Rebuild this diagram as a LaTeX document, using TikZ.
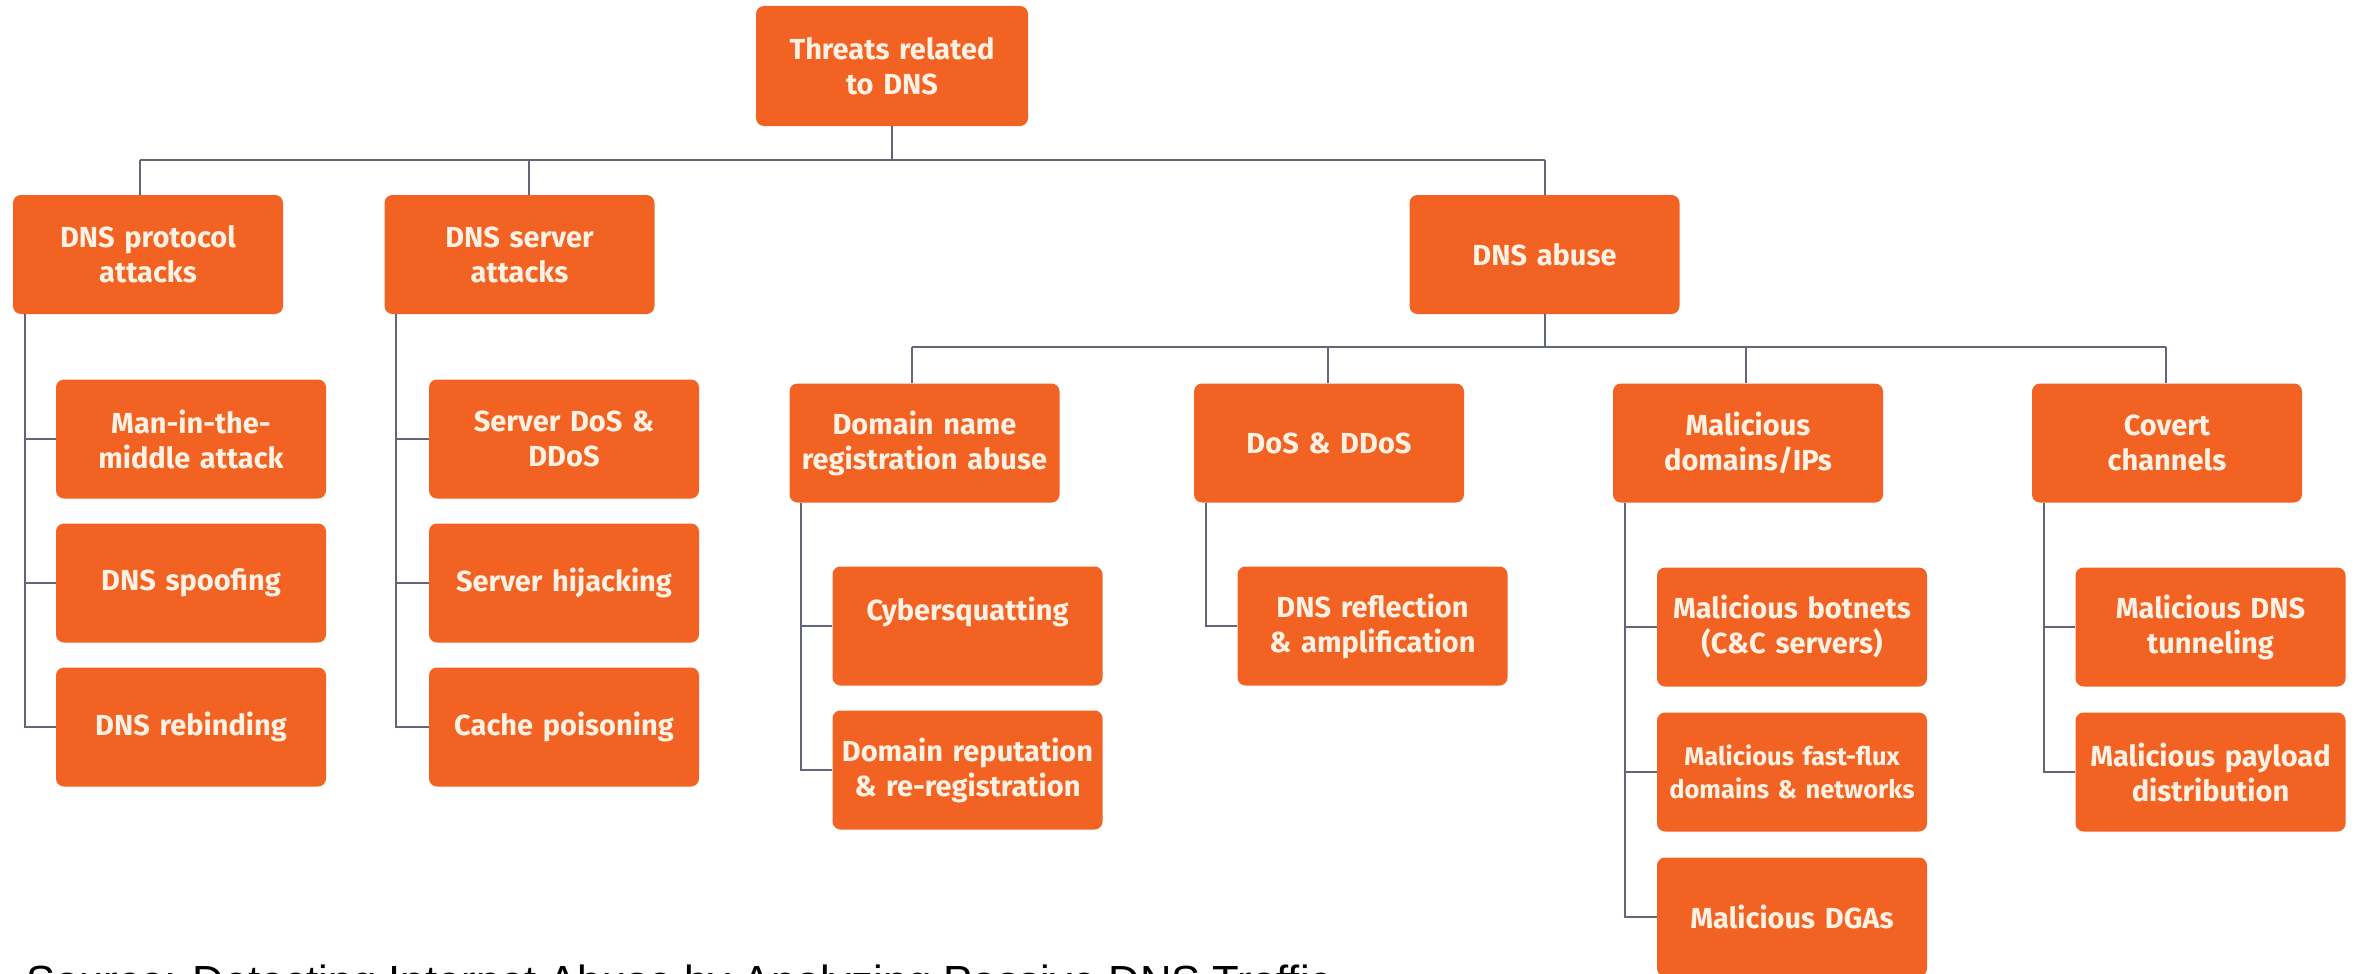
\documentclass[tikz,border=0pt]{standalone}
\usepackage{fontspec}
\newfontfamily\boxfont{Fira Sans}
\newfontfamily\notefont{Liberation Sans}
\definecolor{boxorange}{HTML}{F26323}
\definecolor{boxtext}{HTML}{FFF2E4}
\definecolor{linkgray}{HTML}{62667A}
\begin{document}
\begin{tikzpicture}[x=1pt,y=-1pt,
  box/.style={fill=boxorange, rounded corners=8pt, minimum width=270pt,
    minimum height=119pt, text width=266pt, align=center, inner sep=0pt,
    text=boxtext, font=\boxfont\bfseries\fontsize{29}{35}\selectfont},
  smallbox/.style={box, font=\boxfont\bfseries\fontsize{25.5}{33}\selectfont},
  link/.style={draw=linkgray, line width=2pt}]
\useasboundingbox (0,0) rectangle (2356,974);
\clip (0,0) rectangle (2356,974);
\fill[white] (0,0) rectangle (2356,974);

% root and first level
\node[box, minimum width=272pt, minimum height=120pt] (root) at (892,66) {Threats related\\to DNS};
\node[box] (p1) at (148,254.5) {DNS protocol\\attacks};
\node[box] (p2) at (519.5,254.5) {DNS server\\attacks};
\node[box] (p3) at (1544.5,254.5) {DNS abuse};

% protocol attacks
\node[box] (p1a) at (191,439) {Man-in-the-\\middle attack};
\node[box] (p1b) at (191,583) {DNS spoofing};
\node[box] (p1c) at (191,727) {DNS rebinding};

% server attacks
\node[box] (p2a) at (564,439) {Server DoS \&\\DDoS};
\node[box] (p2b) at (564,583) {Server hijacking};
\node[box] (p2c) at (564,727) {Cache poisoning};

% abuse categories
\node[box] (a1) at (924.5,443) {Domain name\\registration abuse};
\node[box] (a2) at (1329,443) {DoS \& DDoS};
\node[box] (a3) at (1748,443) {Malicious\\domains/IPs};
\node[box] (a4) at (2167,443) {Covert\\channels};

\node[box, text depth=34pt] (a1a) at (967.5,626) {Cybersquatting};
\node[box] (a1b) at (967.5,770) {Domain reputation\\\& re-registration};
\node[box] (a2a) at (1372.5,626) {DNS reflection\\\& amplification};
\node[box] (a3a) at (1792,627) {Malicious botnets\\(C\&C servers)};
\node[smallbox] (a3b) at (1792,772) {Malicious fast-flux\\domains \& networks};
\node[box] (a3c) at (1792,917) {Malicious DGAs};
\node[box] (a4a) at (2210.5,627) {Malicious DNS\\tunneling};
\node[box] (a4b) at (2210.5,772) {Malicious payload\\distribution};

% bus coordinates
\coordinate (bus0) at (0,160);
\coordinate (bus1) at (0,347);
\coordinate (d1) at (140,0);
\coordinate (d2) at (529,0);
\coordinate (d3) at (1545,0);
\coordinate (e1) at (912,0);
\coordinate (e2) at (1328,0);
\coordinate (e3) at (1746,0);
\coordinate (e4) at (2166,0);

% top-level connectors
\draw[link] (root.south) -- (root.south |- bus0);
\draw[link] (d1 |- bus0) -- (d3 |- bus0);
\draw[link] (d1 |- bus0) -- (d1 |- p1.north);
\draw[link] (d2 |- bus0) -- (d2 |- p2.north);
\draw[link] (d3 |- bus0) -- (d3 |- p3.north);

% abuse connectors
\draw[link] (d3 |- p3.south) -- (d3 |- bus1);
\draw[link] (e1 |- bus1) -- (e4 |- bus1);
\draw[link] (e1 |- bus1) -- (e1 |- a1.north);
\draw[link] (e2 |- bus1) -- (e2 |- a2.north);
\draw[link] (e3 |- bus1) -- (e3 |- a3.north);
\draw[link] (e4 |- bus1) -- (e4 |- a4.north);

% side spines
\foreach \up/\kids in {p1/{p1a,p1b,p1c}, p2/{p2a,p2b,p2c}, a1/{a1a,a1b}, a2/{a2a}, a3/{a3a,a3b,a3c}, a4/{a4a,a4b}}{
  \foreach \k in \kids {
    \draw[link] ([xshift=12pt]\up.south west) |- (\k.west);
  }
}

% source line along the bottom edge
\node[anchor=base west, inner sep=0pt, text=black,
  font=\notefont\fontsize{43.6}{50}\selectfont] (src) at (26,996)
  {Source: Detecting Internet Abuse by Analyzing Passive DNS Traffic};
\end{tikzpicture}
\end{document}
